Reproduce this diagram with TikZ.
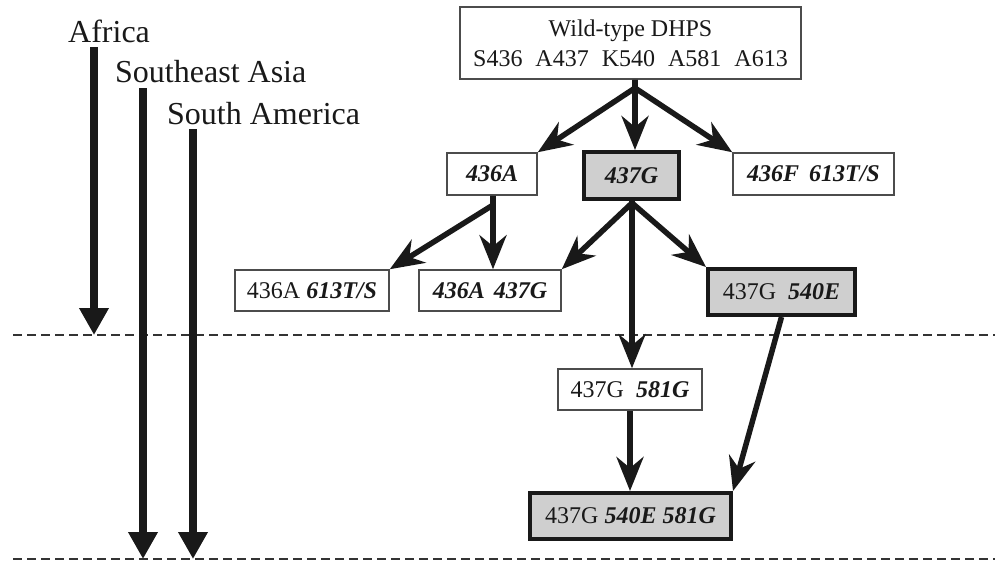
\documentclass[tikz,border=0pt]{standalone}
\usepackage{fontspec}
\setmainfont{Liberation Serif}
\usetikzlibrary{arrows.meta}
\begin{document}
\begin{tikzpicture}[x=1pt,y=-1pt,
  box/.style={draw=black!70, line width=1.5pt, fill=white, inner sep=0pt,
    font=\fontsize{24}{30}\selectfont, text=black!90},
  keybox/.style={box, draw=black!90, line width=4pt, fill=gray!38},
  bi/.style={font=\fontsize{24}{30}\selectfont\bfseries\itshape},
  tree/.style={line width=5.5pt, black!90, line join=round,
    -{Stealth[length=34pt,width=27pt,inset=11pt]}},
  region/.style={line width=8pt, black!90, -{Triangle[length=27pt,width=28pt]}},
  dashline/.style={line width=2pt, dash pattern=on 9pt off 5pt, black!80},
  reglabel/.style={anchor=base west, inner sep=0pt,
    font=\fontsize{32}{36}\selectfont, text=black!90}
]
\useasboundingbox (0,0) rectangle (995,563);
\fill[white] (0,0) rectangle (995,563);

% dashed separators
\coordinate (d1a) at (13,335); \coordinate (d1b) at (995,335);
\coordinate (d2a) at (13,559); \coordinate (d2b) at (995,559);
\draw[dashline] (d1a) -- (d1b);
\draw[dashline] (d2a) -- (d2b);

% region labels and arrows
\node[reglabel] (afr) at (68,42) {Africa};
\node[reglabel] (sea) at (115,82) {Southeast Asia};
\node[reglabel] (sam) at (167,124) {South America};
\coordinate (afrS) at (94,47);  \coordinate (afrE) at (94,335);
\coordinate (seaS) at (143,88); \coordinate (seaE) at (143,559);
\coordinate (samS) at (193,129); \coordinate (samE) at (193,559);
\draw[region] (afrS) -- (afrE);
\draw[region] (seaS) -- (seaE);
\draw[region] (samS) -- (samE);

% nodes
\node[box, minimum width=341pt, minimum height=72pt, align=center] (wt) at (630.5,43)
  {Wild-type DHPS\\S436\hspace{13pt}A437\hspace{13pt}K540\hspace{13pt}A581\hspace{13pt}A613};
\node[box, bi, minimum width=90pt, minimum height=42pt] (n436A) at (492,174) {436A};
\node[keybox, bi, minimum width=95pt, minimum height=47pt] (n437G) at (631.5,175.5) {437G};
\node[box, bi, minimum width=161pt, minimum height=42pt] (n436F) at (813.5,174) {436F\hspace{10pt}613T/S};
\node[box, minimum width=154pt, minimum height=41pt] (n436A613) at (312,290.5) {436A \textbf{\textit{613T/S}}};
\node[box, bi, minimum width=142pt, minimum height=41pt] (n436A437G) at (490,290.5) {436A\hspace{9pt}437G};
\node[keybox, minimum width=147pt, minimum height=46pt] (n540E) at (781.5,292) {437G\hspace{12pt}\textbf{\textit{540E}}};
\node[box, minimum width=144pt, minimum height=41pt] (n581G) at (630,389.5) {437G\hspace{12pt}\textbf{\textit{581G}}};
\node[keybox, minimum width=201pt, minimum height=46pt] (nfinal) at (630.5,516) {437G \textbf{\textit{540E 581G}}};

% branch points
\coordinate (b0) at (635,88);
\coordinate (b1) at (493,205);
\coordinate (b2) at (632,203);

% connectors
\draw[tree] (b0 |- wt.south) -- (b0) -- (n436A.north east);
\draw[tree] (b0 |- wt.south) -- (b0) -- (b0 |- n437G.north);
\draw[tree] (b0 |- wt.south) -- (b0) -- (n436F.north west);

\draw[tree] (b1 |- n436A.south) -- (b1) -- (n436A613.north east);
\draw[tree] (b1 |- n436A.south) -- (b1) -- (b1 |- n436A437G.north);

\draw[tree] (b2 |- n437G.south) -- (b2) -- (n436A437G.north east);
\draw[tree] (b2 |- n437G.south) -- (b2) -- (b2 |- n581G.north);
\draw[tree] (b2 |- n437G.south) -- (b2) -- (n540E.north west);

\draw[tree] (n540E.south) -- (nfinal.north east);
\draw[tree] (n581G.south) -- (n581G.south |- nfinal.north);
\end{tikzpicture}
\end{document}
